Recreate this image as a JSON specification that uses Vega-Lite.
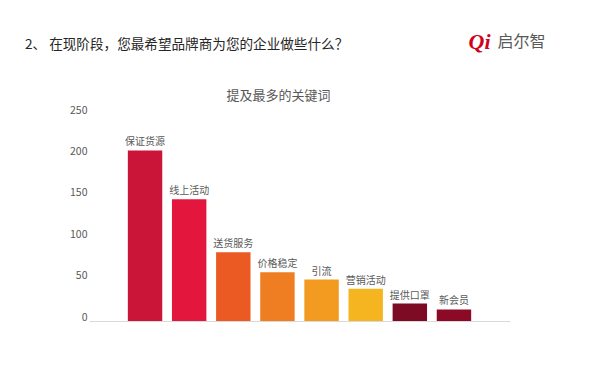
{
  "$schema": "https://vega.github.io/schema/vega-lite/v6.json",
  "width": 421,
  "height": 207,
  "autosize": {"type": "none"},
  "padding": {"left": 89, "top": 114, "right": 89, "bottom": 58},
  "background": "white",
  "config": {
    "view": {"stroke": null},
    "font": "Noto Sans CJK SC"
  },
  "title": {
    "text": "2、 在现阶段，您最希望品牌商为您的企业做些什么？",
    "anchor": "start",
    "frame": "group",
    "dx": -64,
    "dy": 26,
    "fontSize": 13.6,
    "fontWeight": "normal",
    "color": "#262626",
    "font": "Noto Sans CJK SC"
  },
  "data": {
    "values": [
      {"keyword": "保证货源", "count": 206, "color": "#CB1538"},
      {"keyword": "线上活动", "count": 147, "color": "#E3173D"},
      {"keyword": "送货服务", "count": 83, "color": "#EB5A23"},
      {"keyword": "价格稳定", "count": 59, "color": "#EF7E22"},
      {"keyword": "引流", "count": 50, "color": "#F39A21"},
      {"keyword": "营销活动", "count": 39, "color": "#F4B521"},
      {"keyword": "提供口罩", "count": 21, "color": "#7C0B23"},
      {"keyword": "新会员", "count": 14, "color": "#8C0A26"}
    ]
  },
  "encoding": {
    "x": {
      "field": "keyword",
      "type": "nominal",
      "sort": null,
      "scale": {"paddingInner": 0.22, "paddingOuter": 0.88}
    },
    "y": {
      "field": "count",
      "type": "quantitative",
      "scale": {"domain": [0, 250], "nice": false}
    }
  },
  "layer": [
    {
      "mark": {"type": "bar"},
      "encoding": {
        "x": {
          "field": "keyword",
          "type": "nominal",
          "sort": null,
          "axis": {
            "orient": "bottom",
            "title": null,
            "labels": false,
            "ticks": false,
            "domain": true,
            "domainColor": "#D9D9D9",
            "domainWidth": 1
          }
        },
        "y": {
          "field": "count",
          "type": "quantitative",
          "axis": {
            "orient": "left",
            "values": [0, 50, 100, 150, 200, 250],
            "domain": false,
            "ticks": false,
            "grid": false,
            "labelColor": "#595959",
            "labelFontSize": 10.5,
            "labelPadding": 2,
            "labelOffset": -4,
            "labelFont": "Noto Sans CJK SC",
            "title": "Qi",
            "titleAngle": 0,
            "titleX": 379,
            "titleY": -73,
            "titleAlign": "left",
            "titleBaseline": "middle",
            "titleColor": "#D0021B",
            "titleFontSize": 22,
            "titleFontWeight": "bold",
            "titleFontStyle": "italic",
            "titleFont": "Liberation Serif"
          }
        },
        "color": {"field": "color", "type": "nominal", "scale": null, "legend": null}
      }
    },
    {
      "mark": {"type": "text", "baseline": "bottom", "dy": -3, "fontSize": 10, "color": "#595959", "align": "center", "font": "Noto Sans CJK SC"},
      "encoding": {
        "x": {
          "field": "keyword",
          "type": "nominal",
          "sort": null,
          "axis": {
            "orient": "top",
            "labels": false,
            "ticks": false,
            "domain": false,
            "title": "提及最多的关键词",
            "titleX": 189,
            "titleY": -19,
            "titleBaseline": "middle",
            "titleAlign": "center",
            "titleFontSize": 13,
            "titleFontWeight": "normal",
            "titleColor": "#595959",
            "titleFont": "Noto Sans CJK SC"
          }
        },
        "y": {
          "field": "count",
          "type": "quantitative",
          "axis": {
            "orient": "right",
            "labels": false,
            "ticks": false,
            "domain": false,
            "grid": false,
            "title": "启尔智",
            "titleAngle": 0,
            "titleX": -13,
            "titleY": -73,
            "titleAlign": "left",
            "titleBaseline": "middle",
            "titleFontSize": 16,
            "titleFontWeight": "normal",
            "titleColor": "#595959",
            "titleFont": "Noto Sans CJK SC"
          }
        },
        "text": {"field": "keyword", "type": "nominal"}
      }
    }
  ],
  "resolve": {"axis": {"x": "independent", "y": "independent"}}
}
